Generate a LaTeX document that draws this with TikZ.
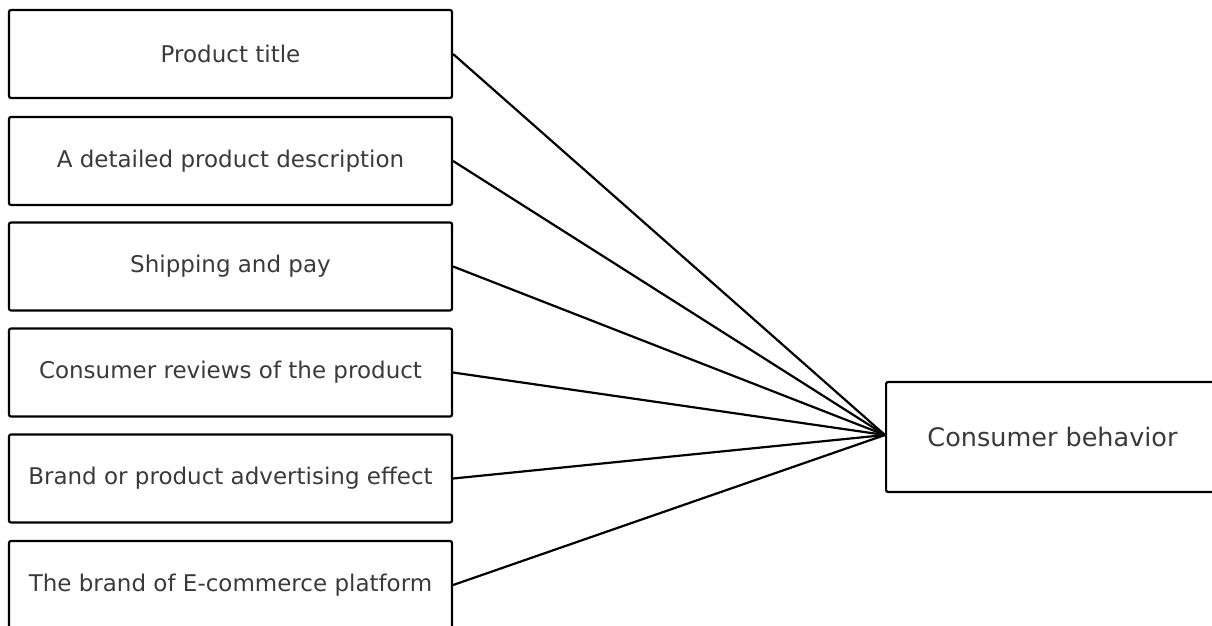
\documentclass[tikz,border=0pt]{standalone}
\usepackage{fontspec}
\setmainfont{DejaVu Sans}
\definecolor{txt}{HTML}{3A3A3A}
\begin{document}
\begin{tikzpicture}[x=1pt,y=-1pt,
  factor/.style={draw=black,line width=2.2pt,rounded corners=2pt,minimum width=443pt,minimum height=88pt,inner sep=0pt,font=\fontsize{23}{27}\selectfont,text=txt},
  result/.style={draw=black,line width=2.2pt,rounded corners=2pt,minimum width=340pt,minimum height=110pt,inner sep=0pt},
  label/.style={font=\fontsize{25.5}{30}\selectfont,text=txt},
  link/.style={draw=black,line width=2.2pt}]
\useasboundingbox (0,0) rectangle (1212,625);
\clip (0,0) rectangle (1212,625);
\node[factor] (f1) at (230.5,54) {Product title};
\node[factor] (f2) at (230.5,161) {A detailed product description};
\node[factor] (f3) at (230.5,266.5) {Shipping and pay};
\node[factor] (f4) at (230.5,372.5) {Consumer reviews of the product};
\node[factor] (f5) at (230.5,478.5) {Brand or product advertising effect};
\node[factor] (f6) at (230.5,585) {The brand of E-commerce platform};
\node[result,anchor=west] (r) at (885,437) {};
\node[label] (rt) at (1052.5,437) {Consumer behavior};
\coordinate (c) at (885,435);
\foreach \i in {1,...,6}{\draw[link] (f\i.east) -- (c);}
\end{tikzpicture}
\end{document}
